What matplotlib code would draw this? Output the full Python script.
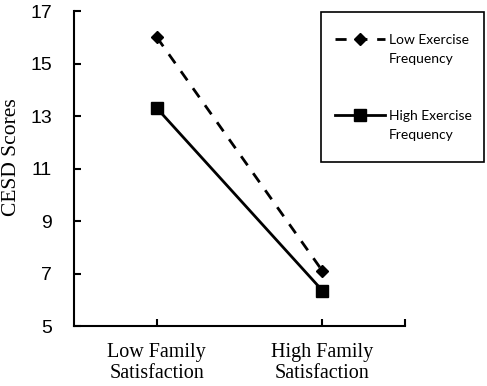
import matplotlib.pyplot as plt
from matplotlib.patches import Rectangle

categories = ['Low Family\nSatisfaction', 'High Family\nSatisfaction']
low_exercise = [16.0, 7.1]
high_exercise = [13.3, 6.35]
series_first = ['Low Exercise', 'High Exercise']
series_second = ['Frequency', 'Frequency']
y_ticks = [5, 7, 9, 11, 13, 15, 17]

fig = plt.figure(figsize=(4.87, 3.86), dpi=100)
ax = fig.add_axes([0.152, 0.1554, 0.68, 0.8161])

x = list(range(len(categories)))
l1, = ax.plot(x, low_exercise, color='black', lw=2.0, dashes=(4, 3.5),
              marker='D', markersize=6.5, label=series_first[0])
l2, = ax.plot(x, high_exercise, color='black', lw=2.0,
              marker='s', markersize=8.5, label=series_first[1])

ax.set_xlim(-0.5, 1.5)
ax.set_ylim(5, 17)
ax.set_yticks(y_ticks)
ax.set_yticklabels([str(t) for t in y_ticks], family='Liberation Sans', fontsize=14)
ax.set_xticks([0, 1, 1.5])
ax.set_xticklabels(categories + [''], family='Liberation Serif', fontsize=14.5,
                   linespacing=1.2)
ax.set_ylabel('CESD Scores', family='Liberation Serif', fontsize=15.5,
              va='center')
ax.yaxis.set_label_coords(-0.19, 0.537)

for s in ['top', 'right']:
    ax.spines[s].set_visible(False)
for s in ['left', 'bottom']:
    ax.spines[s].set_linewidth(1.5)
ax.tick_params(axis='y', direction='in', length=5, width=1.5, pad=16)
ax.tick_params(axis='x', direction='in', length=5, width=1.5, pad=12)

# legend box
fig.patches.append(Rectangle((321 / 487, 1 - 162 / 386), 163 / 487, 150 / 386,
                             transform=fig.transFigure, fill=False,
                             edgecolor='black', lw=1.2))
leg_font = {'family': 'Lato', 'size': 10}
leg = fig.legend(handles=[l1, l2], loc='upper left',
                 bbox_to_anchor=(335 / 487, 1 - 34 / 386), frameon=False,
                 prop=leg_font, handlelength=3.6,
                 handletextpad=0.3, labelspacing=4.6, borderpad=0, borderaxespad=0)

# second line of each legend label
fig.canvas.draw()
for t, extra in zip(leg.get_texts(), series_second):
    bb = t.get_window_extent()
    fig.text(bb.x0 / 487, (bb.y0 - 19) / 386, extra, fontdict=leg_font,
             ha='left', va='bottom')

fig.savefig('out.png', dpi=100)
